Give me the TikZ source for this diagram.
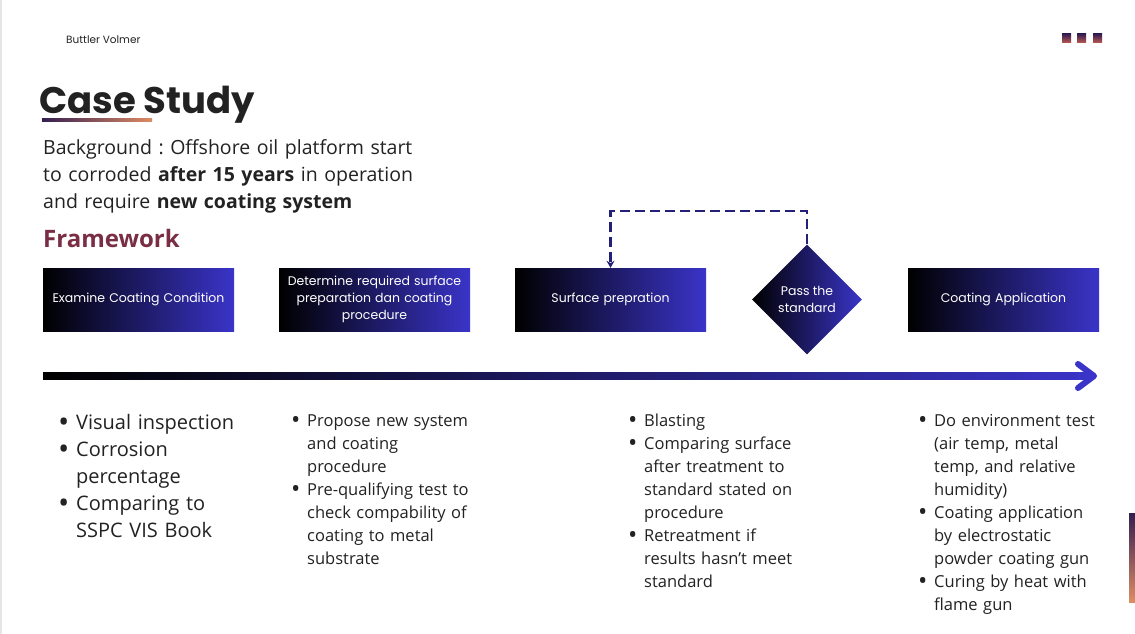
\documentclass[tikz,border=0pt]{standalone}
\usepackage{fontspec}
\setmainfont{Open Sans}
\newfontfamily\poppins{Poppins}
\usetikzlibrary{shapes.geometric,arrows.meta,positioning,calc}
\definecolor{boxblue}{RGB}{58,52,200}
\definecolor{inkgray}{RGB}{34,34,34}
\definecolor{maroon}{RGB}{122,46,69}
\definecolor{plum}{RGB}{52,30,80}
\definecolor{peach}{RGB}{222,140,100}
\definecolor{rust}{RGB}{190,90,80}
\definecolor{loopnavy}{RGB}{36,32,120}
\newcommand{\bul}[1][16pt]{\par\hangindent=#1\hangafter=1\noindent
  \makebox[#1][l]{\raisebox{-0.12em}{\scalebox{1.5}{\textbullet}}}\strut}
\frenchspacing

\begin{document}
\begin{tikzpicture}[x=1pt, y=-1pt, node distance=236pt,
  stepbox/.style={rectangle, left color=black, right color=boxblue, minimum width=191pt, minimum height=63pt,
    text width=185pt, align=center, text=white, font=\poppins\fontsize{12.5}{17}\selectfont, inner sep=0pt},
  passdiamond/.style={diamond, left color=black, right color=boxblue, minimum width=110pt, minimum height=110pt,
    inner sep=0pt, align=center, text=white, font=\poppins\fontsize{12.5}{17}\selectfont},
  notes/.style={anchor=north west, inner sep=0pt, text width=200pt, align=left, text=inkgray,
    font=\fontsize{16.5}{23}\selectfont},
  loopline/.style={loopnavy, line width=2.2pt, dash pattern=on 10pt off 5pt, -{Stealth[length=7pt,width=8pt]}}]
  \useasboundingbox (0,0) rectangle (1135,634);
  \fill[white] (0,0) rectangle (1135,634);
  \draw[gray!20, line width=1.5pt] (1,0) -- (1,634);
  \foreach \x in {1062,1077,1093}
    \shade[top color=plum, bottom color=rust] (\x,34) rectangle ++(9,9);
  \shade[top color=plum, bottom color=peach] (1129,513) rectangle (1135,602);

  \node[anchor=base west, inner sep=0pt, text=inkgray, font=\poppins\fontsize{10.5}{12}\selectfont] (author) at (66,44) {Buttler Volmer};
  \node[anchor=base west, inner sep=0pt, text=inkgray, font=\poppins\bfseries\fontsize{37}{42}\selectfont] (title) at (39,113) {Case Study};
  \shade[left color=plum, right color=peach] (42,118.5) rectangle (152,121.5);
  \node[anchor=north west, inner sep=0pt, text width=420pt, align=left, text=inkgray, font=\fontsize{19.5}{27}\selectfont] (backgr) at (43,135)
    {\strut Background : Offshore oil platform start\\ to corroded \textbf{after 15 years} in operation\\ and require \textbf{new coating system}};
  \node[anchor=base west, inner sep=0pt, text=maroon, font=\bfseries\fontsize{24}{28}\selectfont] (frame) at (43,247) {Framework};

  \node[stepbox] (exam) at (138.5,299.5) {Examine Coating Condition};
  \node[stepbox, right of=exam] (determ) {Determine required surface\\ preparation dan coating\\ procedure};
  \node[stepbox, right of=determ] (surf) {Surface prepration};
  \node[passdiamond, right of=surf, node distance=196.5pt] (pass) {Pass the\\ standard};
  \node[stepbox, right of=pass, node distance=196.5pt] (apply) {Coating Application};
  \draw[loopline] (pass.north) -- ++(0,-33) -| (surf.north);

  \coordinate (tlstart) at (43,376);
  \coordinate (tlend) at (1094,376);
  \shade[left color=black, right color=boxblue] ($(tlstart)+(0,-3.2)$) rectangle ($(tlend)+(-4,3.2)$);
  \draw[boxblue, line width=6pt, line cap=round, line join=round] ($(tlend)+(-16,-12)$) -- (tlend) -- ($(tlend)+(-16,12)$);

  \node[notes, font=\fontsize{20}{27}\selectfont] (examnotes) at (58,402.5)
    {\bul[18pt]Visual inspection \bul[18pt]Corrosion\newline percentage \bul[18pt]Comparing to\newline SSPC VIS Book\par};
  \node[notes] (determnotes) at (291,403)
    {\bul Propose new system\newline and coating\newline procedure
     \bul Pre-qualifying test to\newline check compability of\newline coating to metal\newline substrate\par};
  \node[notes] (surfnotes) at (628,403)
    {\bul Blasting \bul Comparing surface\newline after treatment to\newline standard stated on\newline procedure
     \bul Retreatment if\newline results hasn’t meet\newline standard\par};
  \node[notes] (applynotes) at (918,403)
    {\bul Do environment test\newline (air temp, metal\newline temp, and relative\newline humidity)
     \bul Coating application\newline by electrostatic\newline powder coating gun
     \bul Curing by heat with\newline flame gun\par};
\end{tikzpicture}
\end{document}
